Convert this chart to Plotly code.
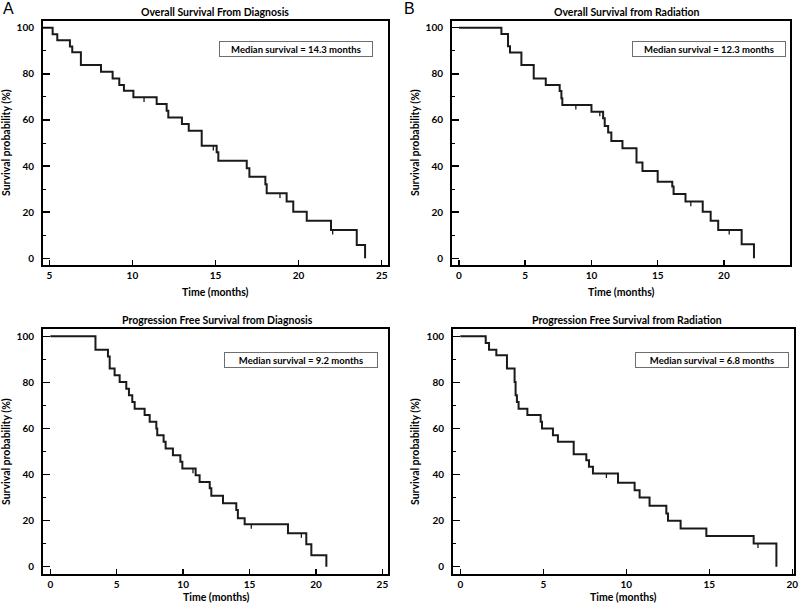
import numpy as np
import plotly.graph_objects as go

W, H = 800, 606

# ---------------- data ----------------
os_dx_t = [0, 5.2, 5.48, 6.24, 6.38, 6.9, 8.11, 8.81, 9.21, 9.49, 10.06, 11.46, 12.06, 12.16,
           12.98, 13.39, 14.17, 15.07, 15.17, 16.88, 17.04, 18.0, 18.08, 19.28, 19.68, 20.49,
           21.95, 23.5, 24.0]
os_dx_s = [100, 97.2, 94.6, 91.8, 89.3, 83.8, 80.9, 78.0, 75.1, 72.7, 69.8, 66.9, 64.0, 61.1,
           58.2, 55.3, 48.8, 46.0, 42.3, 39.0, 35.4, 32.1, 28.2, 24.6, 20.2, 16.3,
           12.3, 5.8, 0]
os_dx_cens = [10.7, 14.87, 18.88, 22.05]

os_rt_t = [0, 3.2, 3.7, 3.85, 4.71, 5.64, 6.55, 7.6, 7.73, 7.8, 10.0, 10.88, 11.0, 11.26, 11.5,
           12.34, 13.4, 13.85, 15.0, 16.1, 16.2, 17.1, 18.4, 19.0, 19.57, 21.34, 22.27]
os_rt_s = [100, 97.3, 92.0, 89.2, 83.8, 78.0, 75.1, 72.5, 69.4, 66.5, 63.6, 60.7, 57.4, 54.5, 50.9,
           47.7, 41.5, 37.9, 33.2, 31.1, 27.9, 24.6, 20.2, 16.3, 12.3, 6.1, 0]
os_rt_cens = [8.82, 10.63, 17.5, 20.4]

pfs_dx_t = [0, 3.4, 4.34, 4.47, 4.84, 5.22, 5.72, 5.92, 6.17, 6.35, 7.1, 7.48, 7.98, 8.05, 8.53,
            8.68, 9.23, 9.79, 9.94, 10.94, 11.24, 12.0, 12.12, 13.0, 14.0, 14.12, 14.63, 17.89,
            19.27, 19.65, 20.78]
pfs_dx_s = [100, 94.2, 91.3, 86.0, 83.1, 80.2, 77.3, 74.4, 71.5, 68.6, 65.8, 62.9, 60.0, 57.1, 54.2,
            51.3, 48.4, 45.5, 42.6, 39.7, 36.8, 34.0, 30.8, 27.5, 24.6, 21.0, 18.4, 14.5,
            9.7, 4.9, 0]
pfs_dx_cens = [10.74, 15.13, 18.9]

pfs_rt_t = [0, 1.53, 1.73, 2.17, 2.81, 3.27, 3.33, 3.41, 3.51, 4.04, 4.84, 4.92, 5.58, 5.88, 6.83,
            7.59, 7.75, 7.99, 9.5, 10.5, 10.8, 11.4, 12.41, 12.51, 13.27, 14.82, 17.67, 19.04]
pfs_rt_s = [100, 97.1, 94.2, 91.8, 86.0, 80.2, 74.4, 71.5, 68.6, 65.8, 62.9, 60.0, 57.1, 54.2, 48.8,
            46.2, 43.4, 40.5, 36.4, 33.2, 30.0, 26.4, 23.1, 19.9, 16.6, 13.3, 10.1, 0]
pfs_rt_cens = [8.8, 17.93]

titles = ["Overall Survival From Diagnosis", "Overall Survival from Radiation",
          "Progression Free Survival from Diagnosis", "Progression Free Survival from Radiation"]
medians = ["Median survival = 14.3 months", "Median survival = 12.3 months",
           "Median survival = 9.2 months", "Median survival = 6.8 months"]
x_ticks = [[5, 10, 15, 20, 25], [0, 5, 10, 15, 20, 25], [0, 5, 10, 15, 20, 25], [0, 5, 10, 15, 20]]
y_ticks = [0, 20, 40, 60, 80, 100]
y_minor = [10, 30, 50, 70, 90]
panel_letters = ["A", "B"]
x_title = "Time (months)"
y_title = "Survival probability (%)"

series = [(os_dx_t, os_dx_s, os_dx_cens), (os_rt_t, os_rt_s, os_rt_cens),
          (pfs_dx_t, pfs_dx_s, pfs_dx_cens), (pfs_rt_t, pfs_rt_s, pfs_rt_cens)]

# ---------------- layout geometry (pixels) ----------------
boxes = [  # left, right, top, bottom
    (43, 388, 21, 265),
    (452, 790, 21, 265),
    (43, 388, 329, 574),
    (453, 794, 329, 574),
]
x_ranges = [[4.62, 25.38], [-0.53, 24.99], [-0.55, 25.42], [-0.44, 20.1]]
y_ranges = [[-2.9, 102.9], [-2.9, 102.9], [-3.2, 103.2], [-3.2, 103.2]]
CENS_LEN = 2.0  # length of censor tick (y units), drawn downward

FONT = "Lato"
LINE = "#1a1a1a"

fig = go.Figure()
layout = dict(width=W, height=H, margin=dict(l=0, r=0, t=0, b=0, autoexpand=False),
              template="none",
              paper_bgcolor="white", plot_bgcolor="white", showlegend=False,
              annotations=[])

def px(x):
    return x / W

def py(y):
    return 1 - y / H

for i, (t, s, cens) in enumerate(series):
    xa = "x" if i == 0 else f"x{i+1}"
    ya = "y" if i == 0 else f"y{i+1}"
    fig.add_trace(go.Scatter(x=t, y=s, mode="lines", line=dict(shape="hv", color=LINE, width=2),
                             xaxis=xa, yaxis=ya, hoverinfo="skip"))
    tt = np.array(t)
    ss = np.array(s)
    idx = np.searchsorted(tt, np.array(cens), side="right") - 1
    cx, cy = [], []
    for c, lvl in zip(cens, ss[idx]):
        cx += [c, c, None]
        cy += [lvl, lvl - CENS_LEN, None]
    fig.add_trace(go.Scatter(x=cx, y=cy, mode="lines", line=dict(color=LINE, width=1.3),
                             xaxis=xa, yaxis=ya, hoverinfo="skip"))
    l, r, tp, b = boxes[i]
    key = "" if i == 0 else str(i + 1)
    layout["xaxis" + key] = dict(
        domain=[px(l), px(r)], range=x_ranges[i], anchor=ya, automargin=False,
        tickvals=x_ticks[i], ticks="inside", ticklen=5, tickwidth=1.5, tickcolor="black",
        showline=True, linewidth=2, linecolor="black", mirror=True,
        showgrid=False, zeroline=False, fixedrange=True,
        tickfont=dict(family=FONT, size=10, color="black", weight="bold"))
    layout["yaxis" + key] = dict(
        domain=[py(b), py(tp)], range=y_ranges[i], anchor=xa, automargin=False,
        tickvals=y_ticks, ticks="inside", ticklen=7, tickwidth=1.5, tickcolor="black",
        ticklabelstandoff=5,
        minor=dict(tickvals=y_minor, ticks="inside", ticklen=3, tickwidth=1, tickcolor="black",
                   showgrid=False),
        showline=True, linewidth=2, linecolor="black", mirror=True,
        showgrid=False, zeroline=False, fixedrange=True,
        tickfont=dict(family=FONT, size=10, color="black", weight="bold"))

ann = layout["annotations"]
title_pos = [(215, 12), (627, 12), (217, 320), (627, 320)]
for i, (x, y) in enumerate(title_pos):
    ann.append(dict(text=titles[i], x=px(x), y=py(y), xref="paper", yref="paper",
                    xanchor="center", yanchor="middle", showarrow=False,
                    font=dict(family=FONT, size=10.5, color="black", weight="bold")))

xt_pos = [(215, 292), (621, 292), (216, 597), (623, 597)]
for x, y in xt_pos:
    ann.append(dict(text=x_title, x=px(x), y=py(y), xref="paper", yref="paper",
                    xanchor="center", yanchor="middle", showarrow=False,
                    font=dict(family=FONT, size=10.5, color="black", weight="bold")))

yt_pos = [(6, 143), (415, 143), (6, 452), (415, 452)]
for x, y in yt_pos:
    ann.append(dict(text=y_title, x=px(x), y=py(y), xref="paper", yref="paper", textangle=-90,
                    xanchor="center", yanchor="middle", showarrow=False,
                    font=dict(family=FONT, size=10.5, color="black", weight="bold")))

med_pos = [(296, 49.5), (709, 49.5), (301, 359.5), (712, 359.5)]
for i, (x, y) in enumerate(med_pos):
    ann.append(dict(text=medians[i], x=px(x), y=py(y), xref="paper", yref="paper",
                    xanchor="center", yanchor="middle", showarrow=False,
                    width=150, height=12, borderpad=1, bordercolor="#6e6e6e", borderwidth=1,
                    bgcolor="white",
                    font=dict(family=FONT, size=9.5, color="black", weight="bold")))

letter_pos = [(8, 8), (410, 8)]
for i, (x, y) in enumerate(letter_pos):
    ann.append(dict(text=panel_letters[i], x=px(x), y=py(y), xref="paper", yref="paper",
                    xanchor="center", yanchor="middle", showarrow=False,
                    font=dict(family="Liberation Sans", size=16, color="black")))

fig.update_layout(**layout)
fig.write_html("out.html", config={"displayModeBar": False, "staticPlot": True},
               post_script="document.body.style.margin='0';document.body.style.overflow='hidden';")
